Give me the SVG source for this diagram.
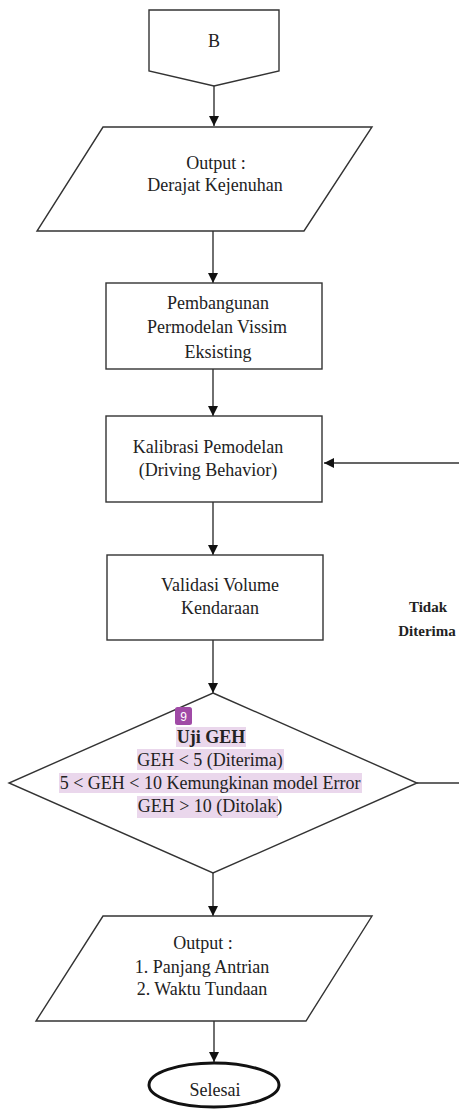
<svg xmlns="http://www.w3.org/2000/svg" width="459" height="1109" viewBox="0 0 459 1109">
  <style>
    .shape { fill: #ffffff; stroke: #333333; stroke-width: 1.4; }
    .conn { fill: none; stroke: #333333; stroke-width: 1.4; }
    .t { font-family: "Liberation Serif", "Times New Roman", serif; font-size: 18px; fill: #222222; text-anchor: middle; }
    .b { font-weight: bold; }
    .hl { fill: #ead7ec; }
  </style>
  <defs>
    <marker id="arrow" viewBox="0 0 10 10" refX="10" refY="5" markerWidth="10" markerHeight="10" markerUnits="userSpaceOnUse" orient="auto">
      <path d="M0,0 L10,5 L0,10 Z" fill="#111111"/>
    </marker>
  </defs>

  <rect width="459" height="1109" fill="#ffffff"/>

  <!-- connectors -->
  <g id="connectors">
    <line class="conn" x1="214" y1="86" x2="214" y2="126" marker-end="url(#arrow)"/>
    <line class="conn" x1="213" y1="231" x2="213" y2="283" marker-end="url(#arrow)"/>
    <line class="conn" x1="213" y1="369" x2="213" y2="416" marker-end="url(#arrow)"/>
    <line class="conn" x1="213" y1="502" x2="213" y2="555" marker-end="url(#arrow)"/>
    <line class="conn" x1="213" y1="640" x2="213" y2="693" marker-end="url(#arrow)"/>
    <line class="conn" x1="213" y1="873" x2="213" y2="916" marker-end="url(#arrow)"/>
    <line class="conn" x1="214" y1="1021" x2="214" y2="1062" marker-end="url(#arrow)"/>
    <!-- "Tidak Diterima" loop back to calibration -->
    <path class="conn" d="M417,783 H463 V463 H324" marker-end="url(#arrow)"/>
    <text class="t b" x="428" y="612" style="font-size:15px">Tidak</text>
    <text class="t b" x="427" y="636" style="font-size:15px">Diterima</text>
  </g>

  <!-- off-page connector B -->
  <g id="node-b">
    <path class="shape" d="M149,10 H279 V71 L214,86 L149,71 Z"/>
    <text class="t" x="214" y="47">B</text>
  </g>

  <g id="node-output-ds">
    <path class="shape" d="M103,127 H372 L304,231 H37 Z"/>
    <text class="t" x="216" y="169">Output :</text>
    <text class="t" x="215" y="191">Derajat Kejenuhan</text>
  </g>

  <g id="node-pembangunan">
    <rect class="shape" x="106" y="283" width="216" height="86"/>
    <text class="t" x="218" y="309">Pembangunan</text>
    <text class="t" x="217" y="333">Permodelan Vissim</text>
    <text class="t" x="218" y="358">Eksisting</text>
  </g>

  <g id="node-kalibrasi">
    <rect class="shape" x="106" y="416" width="216" height="86"/>
    <text class="t" x="208" y="453">Kalibrasi Pemodelan</text>
    <text class="t" x="208" y="476">(Driving Behavior)</text>
  </g>

  <g id="node-validasi">
    <rect class="shape" x="107" y="555" width="216" height="85"/>
    <text class="t" x="220" y="591">Validasi Volume</text>
    <text class="t" x="220" y="614">Kendaraan</text>
  </g>

  <g id="node-uji-geh">
    <path class="shape" d="M213,693 L417,783 L213,873 L9,783 Z"/>
    <rect class="hl" x="176" y="727" width="70" height="20"/>
    <rect class="hl" x="137" y="749" width="147" height="21"/>
    <rect class="hl" x="59" y="773" width="303" height="20"/>
    <rect class="hl" x="137" y="796" width="141" height="22"/>
    <rect x="175" y="707" width="17" height="18" rx="2.5" fill="#a04aa6"/>
    <text x="183.5" y="721" style="font-family:'Liberation Sans', Arial, sans-serif; font-size:12px; fill:#ffffff; text-anchor:middle">9</text>
    <text class="t b" x="211" y="743">Uji GEH</text>
    <text class="t" x="210" y="766">GEH &lt; 5 (Diterima)</text>
    <text class="t" x="210" y="789">5 &lt; GEH &lt; 10 Kemungkinan model Error</text>
    <text class="t" x="210" y="812">GEH &gt; 10 (Ditolak)</text>
  </g>

  <g id="node-output-final">
    <path class="shape" d="M103,916 H372 L306,1021 H36 Z"/>
    <text class="t" x="203" y="949">Output :</text>
    <text class="t" x="202" y="973">1. Panjang Antrian</text>
    <text class="t" x="202" y="995">2. Waktu Tundaan</text>
  </g>

  <g id="node-selesai">
    <ellipse cx="214" cy="1085" rx="65" ry="22" fill="#ffffff" stroke="#111111" stroke-width="3"/>
    <text class="t" x="215" y="1096">Selesai</text>
  </g>
</svg>
